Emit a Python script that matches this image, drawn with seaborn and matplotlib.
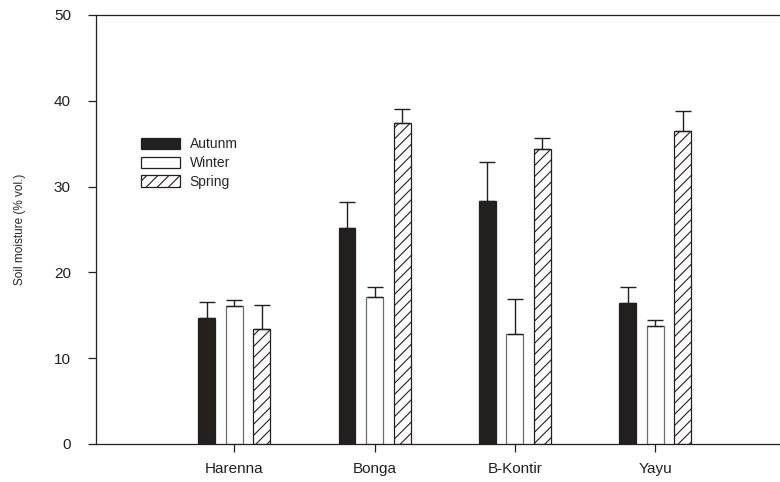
import pandas as pd
import numpy as np
import seaborn as sns
import matplotlib.pyplot as plt

# values
sites = ["Harenna", "Bonga", "B-Kontir", "Yayu"]
seasons = ["Autunm", "Winter", "Spring"]
autumn = [14.7, 25.2, 28.3, 16.4]
winter = [16.05, 17.1, 12.8, 13.8]
spring = [13.4, 37.4, 34.4, 36.5]
autumn_err = [1.8, 3.0, 4.6, 1.9]
winter_err = [0.75, 1.2, 4.1, 0.7]
spring_err = [2.8, 1.6, 1.3, 2.3]

means = {"Autunm": autumn, "Winter": winter, "Spring": spring}
errs = {"Autunm": autumn_err, "Winter": winter_err, "Spring": spring_err}

rows = []
for s in seasons:
    for site, v in zip(sites, means[s]):
        rows.append({"site": site, "season": s, "value": v})
df = pd.DataFrame(rows)

sns.set_style("ticks")
plt.rcParams['font.family'] = ['Liberation Sans', 'DejaVu Sans']
plt.rcParams['hatch.linewidth'] = 0.8

dark = "#231f20"
fig = plt.figure(figsize=(7.8, 4.82), dpi=100)
ax = fig.add_axes([0.123, 0.079, 0.877, 0.89])

sns.barplot(data=df, x="site", y="value", hue="season", order=sites, hue_order=seasons,
            palette=[dark, "white", "white"], width=0.59, gap=0.39,
            edgecolor=dark, linewidth=0.9, errorbar=None, ax=ax)

edge_cols = {"Autunm": dark, "Winter": "#6d6d6d", "Spring": dark}
for cont, s in zip(ax.containers, seasons):
    for bar, e in zip(cont, errs[s]):
        bar.set_edgecolor(edge_cols[s])
        if s == "Spring":
            bar.set_hatch("///")
        x = bar.get_x() + bar.get_width() / 2
        h = bar.get_height()
        ax.errorbar(x, h, yerr=[[0], [e]], fmt="none", ecolor=dark,
                    elinewidth=1.0, capsize=6, capthick=1.0, zorder=1)

ax.set_xlim(-0.986, 3.89)
ax.set_ylim(0, 50)
ax.set_yticks([0, 10, 20, 30, 40, 50])
ax.set_xlabel("")
ax.set_ylabel("Soil moisture (% vol.)", fontsize=8.5, labelpad=20)
ax.tick_params(axis="both", direction="out", length=6, width=0.9, labelsize=11, colors=dark)
ax.tick_params(axis="x", pad=7)
ax.tick_params(axis="y", pad=12)
for sp in ["left", "bottom", "top"]:
    ax.spines[sp].set_visible(True)
    ax.spines[sp].set_color(dark)
    ax.spines[sp].set_linewidth(0.9)
ax.spines["right"].set_visible(False)

handles, labels = ax.get_legend_handles_labels()
handles[2].set_hatch("///")
ax.legend(handles, labels, loc="upper left", bbox_to_anchor=(0.066, 0.715), frameon=False,
          fontsize=10, handlelength=2.8, handleheight=0.9, handletextpad=0.7,
          labelspacing=0.35, borderpad=0, borderaxespad=0)

fig.savefig("out.png", dpi=100)
